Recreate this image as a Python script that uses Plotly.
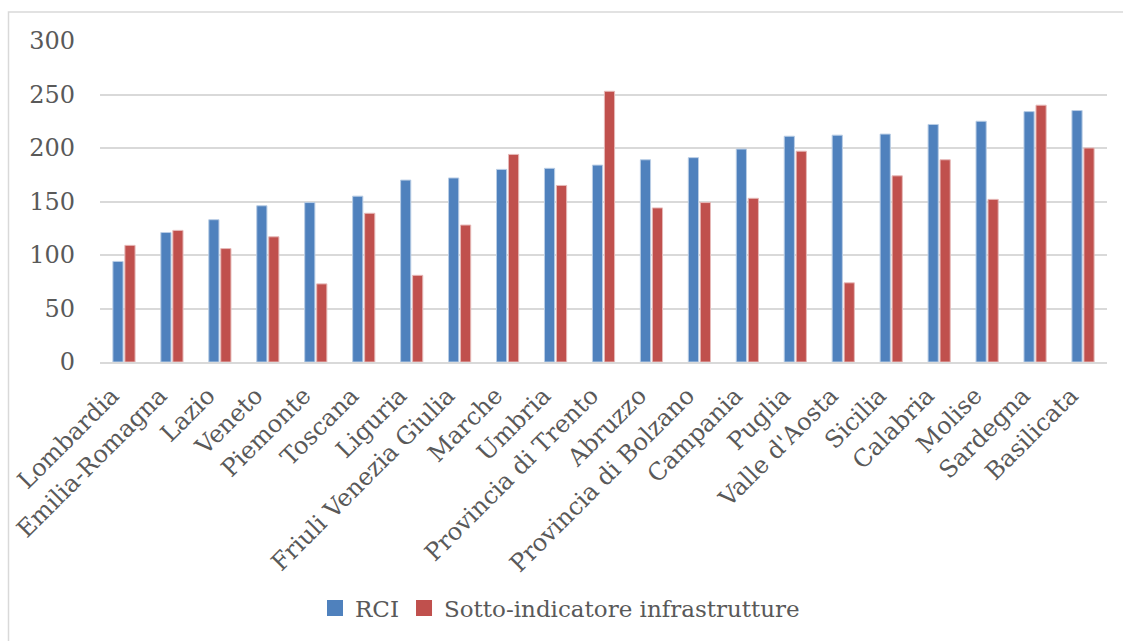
import plotly.graph_objects as go

regions = ["Lombardia", "Emilia-Romagna", "Lazio", "Veneto", "Piemonte", "Toscana",
           "Liguria", "Friuli Venezia Giulia", "Marche", "Umbria", "Provincia di Trento",
           "Abruzzo", "Provincia di Bolzano", "Campania", "Puglia", "Valle d'Aosta",
           "Sicilia", "Calabria", "Molise", "Sardegna", "Basilicata"]
rci = [94, 121, 133, 146, 149, 155, 170, 172, 180, 181, 184,
       189, 191, 199, 211, 212, 213, 222, 225, 234, 235]
infra = [109, 123, 106, 117, 73, 139, 81, 128, 194, 165, 253,
         144, 149, 153, 197, 74, 174, 189, 152, 240, 200]
y_ticks = [0, 50, 100, 150, 200, 250, 300]

FONT = "DejaVu Serif, serif"
TXT = "#595959"
BLUE, RED = "#4F81BD", "#C0504D"

fig = go.Figure()
fig.add_trace(go.Bar(x=regions, y=rci, name="RCI", showlegend=False,
                     marker=dict(color=BLUE, line=dict(color="#B9CDE5", width=1))))
fig.add_trace(go.Bar(x=regions, y=infra, name="Sotto-indicatore infrastrutture",
                     showlegend=False,
                     marker=dict(color=RED, line=dict(color="#E6B9B8", width=1))))
# legend entries with square swatches
fig.add_trace(go.Scatter(x=[None], y=[None], mode="markers", name="RCI",
                         marker=dict(symbol="square", size=16, color=BLUE)))
fig.add_trace(go.Scatter(x=[None], y=[None], mode="markers",
                         name="Sotto-indicatore infrastrutture",
                         marker=dict(symbol="square", size=16, color=RED)))

W, H = 1123, 641
L, R, T, B = 100, 16, 41, 279
pw, ph = W - L - R, H - T - B

def px(x):
    return (x - L) / pw

def py(y):
    return (H - B - y) / ph

fig.update_layout(
    width=W, height=H,
    margin=dict(l=L, r=R, t=T, b=B),
    paper_bgcolor="white", plot_bgcolor="white",
    barmode="group", bargap=0.5, bargroupgap=0.15,
    font=dict(family=FONT, size=24, color=TXT),
    showlegend=True,
    legend=dict(orientation="h", x=px(560), xanchor="center", y=py(608), yanchor="middle",
                font=dict(family=FONT, size=23, color=TXT), itemwidth=30,
                traceorder="normal"),
    xaxis=dict(tickangle=-45, showgrid=False, showline=True, linecolor="#D9D9D9",
               linewidth=2, ticks="", ticklabelstandoff=8, ticklabelshift=-12,
               tickfont=dict(family=FONT, size=24, color=TXT)),
    yaxis=dict(range=[0, 300], tickvals=y_ticks, showgrid=True, gridcolor="#D9D9D9",
               gridwidth=1.5, zeroline=False, showline=False, ticks="",
               ticklabelstandoff=24,
               tickfont=dict(family=FONT, size=24, color=TXT)),
    shapes=[dict(type="rect", xref="paper", yref="paper",
                 x0=px(8.5), x1=px(1140), y0=py(660), y1=py(12),
                 line=dict(color="#D9D9D9", width=1.5), fillcolor="rgba(0,0,0,0)",
                 layer="below")],
)

fig.write_html("out.html")
